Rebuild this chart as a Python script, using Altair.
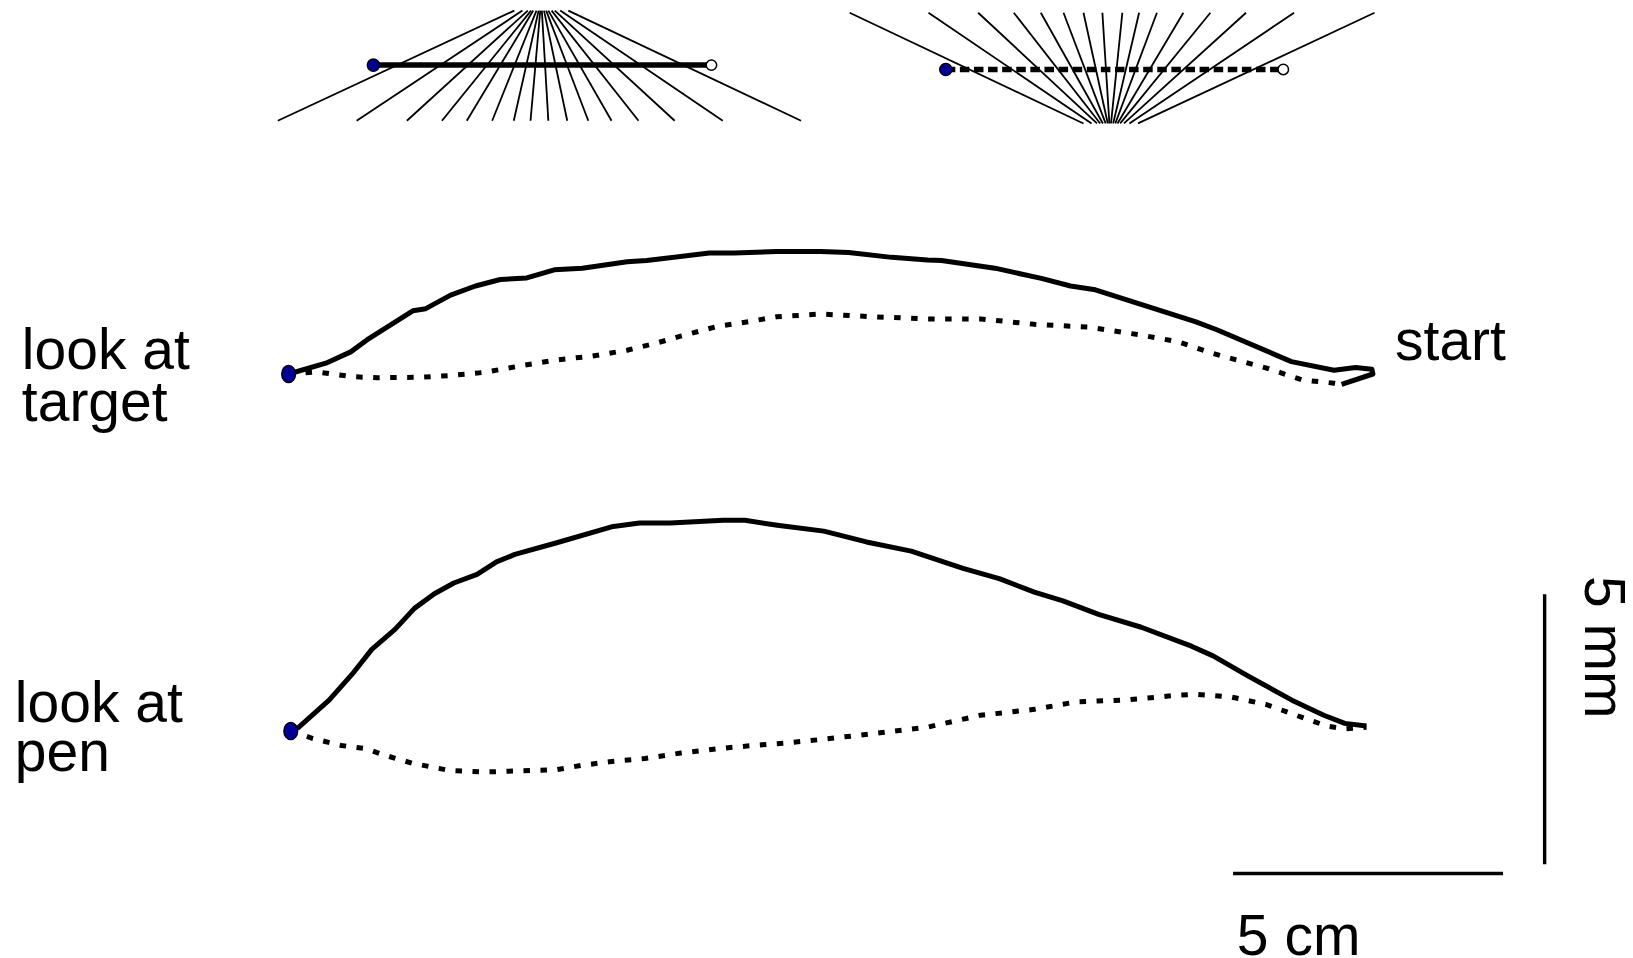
import altair as alt
import pandas as pd

# ---------------- data (x in cm, y in mm, relative to each trace's target dot) ----------------
# "look at target" trace
tgt_solid_x = [0, 0.69, 1.15, 1.45, 2.30, 2.54, 3.00, 3.46, 3.92, 4.41, 4.92, 5.44, 6.27, 6.63, 7.79,
               8.25, 9.04, 9.77, 9.85, 10.37, 11.17, 11.83, 12.09, 13.08, 13.94, 14.48, 14.94, 16.79,
               17.19, 18.57, 19.36, 19.76, 20.06, 20.08, 19.50]
tgt_solid_y = [0, 0.20, 0.41, 0.63, 1.17, 1.21, 1.46, 1.63, 1.75, 1.78, 1.93, 1.96, 2.08, 2.10, 2.24,
               2.24, 2.27, 2.27, 2.27, 2.25, 2.16, 2.11, 2.10, 1.96, 1.77, 1.63, 1.56, 0.97,
               0.82, 0.23, 0.07, 0.12, 0.09, 0.00, -0.19]
tgt_dot_x = [0, 0.51, 1.18, 1.64, 2.43, 2.97, 3.62, 4.29, 4.95, 5.61, 6.27, 6.80, 7.26, 7.93, 8.52,
             9.04, 9.85, 10.83, 11.83, 12.82, 13.81, 14.80, 15.79, 16.46, 17.12, 18.11, 18.77, 19.36,
             19.50]
tgt_dot_y = [0, 0.04, -0.05, -0.07, -0.06, -0.03, 0.03, 0.15, 0.26, 0.33, 0.44, 0.57, 0.70, 0.88, 0.97,
             1.06, 1.11, 1.06, 1.02, 1.02, 0.92, 0.87, 0.72, 0.60, 0.38, 0.11, -0.11, -0.17,
             -0.19]

# "look at pen" trace
pen_solid_x = [0, 0.15, 0.71, 1.17, 1.50, 1.93, 2.29, 2.66, 3.02, 3.45, 3.81, 4.15, 4.91, 5.94, 6.46,
               7.03, 8.01, 8.41, 9.01, 9.87, 10.66, 11.49, 12.45, 13.12, 13.77, 14.30, 14.96, 15.75,
               16.68, 17.08, 17.74, 18.54, 19.13, 19.52, 19.92]
pen_solid_y = [0, 0.07, 0.57, 1.09, 1.51, 1.88, 2.27, 2.54, 2.74, 2.90, 3.13, 3.27, 3.48, 3.78, 3.85,
               3.85, 3.90, 3.90, 3.81, 3.70, 3.50, 3.33, 3.01, 2.82, 2.57, 2.41, 2.16, 1.92,
               1.57, 1.39, 1.01, 0.57, 0.29, 0.14, 0.09]
pen_dot_x = [0, 0.41, 0.94, 1.40, 1.74, 2.26, 2.93, 3.59, 4.24, 4.91, 5.37, 5.90, 6.56, 7.22, 7.89,
             8.55, 9.20, 9.80, 10.79, 11.79, 12.77, 13.77, 14.56, 15.42, 16.41, 16.75, 17.41, 18.06,
             18.73, 19.19, 19.52, 19.92]
pen_dot_y = [0, -0.14, -0.27, -0.33, -0.45, -0.60, -0.73, -0.76, -0.74, -0.72, -0.64, -0.57, -0.51,
             -0.41, -0.33, -0.27, -0.22, -0.16, -0.05, 0.07, 0.29, 0.40, 0.54, 0.57, 0.66, 0.68,
             0.63, 0.49, 0.25, 0.09, 0.04, 0.07]

# schematic fans (same frame as the "look at target" trace)
fan_left_bottom_x = [-0.20, 1.26, 2.19, 2.84, 3.30, 3.77, 4.17, 4.48, 4.81, 5.16, 5.55, 5.98, 6.48,
                     7.15, 8.04, 9.49]
fan_left_top_x = [4.18, 4.33, 4.43, 4.49, 4.53, 4.59, 4.63, 4.66, 4.69, 4.73, 4.77, 4.81, 4.87,
                  4.93, 5.03, 5.18]
fan_right_top_x = [10.39, 11.85, 12.77, 13.43, 13.93, 14.35, 14.72, 15.07, 15.44, 15.75, 16.08,
                   16.57, 17.07, 17.73, 18.62, 20.11]
fan_right_bottom_x = [14.72, 14.87, 14.97, 15.03, 15.08, 15.13, 15.17, 15.20, 15.23, 15.27, 15.31,
                      15.35, 15.40, 15.47, 15.57, 15.73]
FAN_LEFT_Y = (4.69, 6.73)      # (bottom, top)
FAN_RIGHT_Y = (4.64, 6.69)

# movement bars in the schematics: (x target, x start, y)
bar_left = (1.57, 7.83, 5.72)
bar_right = (12.17, 18.42, 5.64)

# scale bars
SCALE_CM = 5
SCALE_MM = 5

# ---------------- layout ----------------
W, H = 1617, 950
PX = 54.0                     # pixels per cm (x) and per mm (y)
ORIGIN = (280.6, 366.0)       # chart-pixel position of the "look at target" target dot
PEN_OFFSET = (0.04, -6.61)    # where the "look at pen" trace sits relative to the first
xdom = [-ORIGIN[0] / PX, (W - ORIGIN[0]) / PX]
ydom = [-(H - ORIGIN[1]) / PX, ORIGIN[1] / PX]
xs = alt.Scale(domain=xdom, zero=False, nice=False)
ys = alt.Scale(domain=ydom, zero=False, nice=False)

FONT = "Liberation Sans"
FS = 57
NAVY = "#000096"


def X(field, **kw):
    return alt.X(field, type="quantitative", scale=xs, axis=None, **kw)


def Y(field, **kw):
    return alt.Y(field, type="quantitative", scale=ys, axis=None, **kw)


# trajectories table
rows = []
for panel, kind, xv, yv in [
    ("target", "solid", tgt_solid_x, tgt_solid_y),
    ("target", "dotted", tgt_dot_x, tgt_dot_y),
    ("pen", "solid", pen_solid_x, pen_solid_y),
    ("pen", "dotted", pen_dot_x, pen_dot_y),
]:
    dx, dy = PEN_OFFSET if panel == "pen" else (0.0, 0.0)
    for i, (a, b) in enumerate(zip(xv, yv)):
        rows.append({"panel": panel, "kind": kind, "i": i, "x": a + dx, "y": b + dy})
traj = pd.DataFrame(rows)

solid = alt.Chart(traj).transform_filter(alt.datum.kind == "solid").mark_line(
    color="black", strokeWidth=5, strokeJoin="round", strokeCap="butt"
).encode(x=X("x"), y=Y("y"), detail="panel:N", order="i:Q")

dotted = alt.Chart(traj).transform_filter(alt.datum.kind == "dotted").mark_line(
    color="black", strokeWidth=5, strokeDash=[6.5, 10.5], strokeCap="butt"
).encode(x=X("x"), y=Y("y"), detail="panel:N", order="i:Q")

targets = pd.DataFrame({"x": [0.0, PEN_OFFSET[0]], "y": [0.0, PEN_OFFSET[1]]})
ellipse = "M0,-1A0.8,1,0,1,1,0,1A0.8,1,0,1,1,0,-1Z"
target_dots = alt.Chart(targets).mark_point(
    shape=ellipse, size=300, filled=True, fill=NAVY, stroke="black", strokeWidth=1.3, opacity=1
).encode(x=X("x"), y=Y("y"))

# fans
fans = pd.DataFrame(
    [{"x": b, "y": FAN_LEFT_Y[0], "x2": t, "y2": FAN_LEFT_Y[1]}
     for b, t in zip(fan_left_bottom_x, fan_left_top_x)]
    + [{"x": t, "y": FAN_RIGHT_Y[1], "x2": b, "y2": FAN_RIGHT_Y[0]}
       for t, b in zip(fan_right_top_x, fan_right_bottom_x)]
)
fan_lines = alt.Chart(fans).mark_rule(color="black", strokeWidth=1.8).encode(
    x=X("x"), y=Y("y"), x2="x2:Q", y2="y2:Q"
)

bars = pd.DataFrame([
    {"kind": "solid", "x": bar_left[0], "x2": bar_left[1], "y": bar_left[2]},
    {"kind": "dotted", "x": bar_right[0], "x2": bar_right[1], "y": bar_right[2]},
])
bar_solid = alt.Chart(bars).transform_filter(alt.datum.kind == "solid").mark_rule(
    color="black", strokeWidth=5.5
).encode(x=X("x"), x2="x2:Q", y=Y("y"))
bar_dotted = alt.Chart(bars).transform_filter(alt.datum.kind == "dotted").mark_rule(
    color="black", strokeWidth=5.5, strokeDash=[9.5, 4.6]
).encode(x=X("x"), x2="x2:Q", y=Y("y"))

bar_starts = alt.Chart(bars).mark_point(
    shape="circle", size=110, filled=True, fill="white", stroke="black", strokeWidth=1.5, opacity=1
).encode(x=X("x2"), y=Y("y"))
bar_targets = alt.Chart(bars).mark_point(
    shape="circle", size=150, filled=True, fill=NAVY, stroke="black", strokeWidth=1.3, opacity=1
).encode(x=X("x"), y=Y("y"))

# scale bars
SB_X0, SB_Y = 17.49, -9.25
SV_X, SV_Y0 = 23.26, -9.08
scale_df = pd.DataFrame([
    {"x": SB_X0, "x2": SB_X0 + SCALE_CM, "y": SB_Y, "y2": SB_Y},
    {"x": SV_X, "x2": SV_X, "y": SV_Y0, "y2": SV_Y0 + SCALE_MM},
])
scale_bars = alt.Chart(scale_df).mark_rule(color="black", strokeWidth=3.4).encode(
    x=X("x"), x2="x2:Q", y=Y("y"), y2="y2:Q"
)

one = alt.Data(values=[{}])


def label(text, x, y, angle=0, lh=52):
    return alt.Chart(one).mark_text(
        font=FONT, fontSize=FS, align="left", baseline="alphabetic", color="black",
        lineBreak="\n", lineHeight=lh, angle=angle
    ).encode(
        x=alt.X(datum=x, type="quantitative", scale=xs, axis=None),
        y=alt.Y(datum=y, type="quantitative", scale=ys, axis=None),
        text=alt.value(text),
    )


texts = [
    label("look at\ntarget", -4.94, 0.09),
    label("look at\npen", -5.07, -6.44, lh=49),
    label("start", 20.49, 0.26),
    label(f"{SCALE_CM} cm", 17.56, -10.76),
    label(f"{SCALE_MM} mm", 24.01, -3.74, angle=90),
]

chart = alt.layer(
    fan_lines, bar_solid, bar_dotted, bar_starts, bar_targets,
    dotted, solid, target_dots, scale_bars, *texts
).properties(
    width=W, height=H, autosize=alt.AutoSizeParams(type="none"), padding=0, background="white"
).configure_view(stroke=None)

chart.save("out.html", embed_options={"renderer": "svg", "actions": False})
